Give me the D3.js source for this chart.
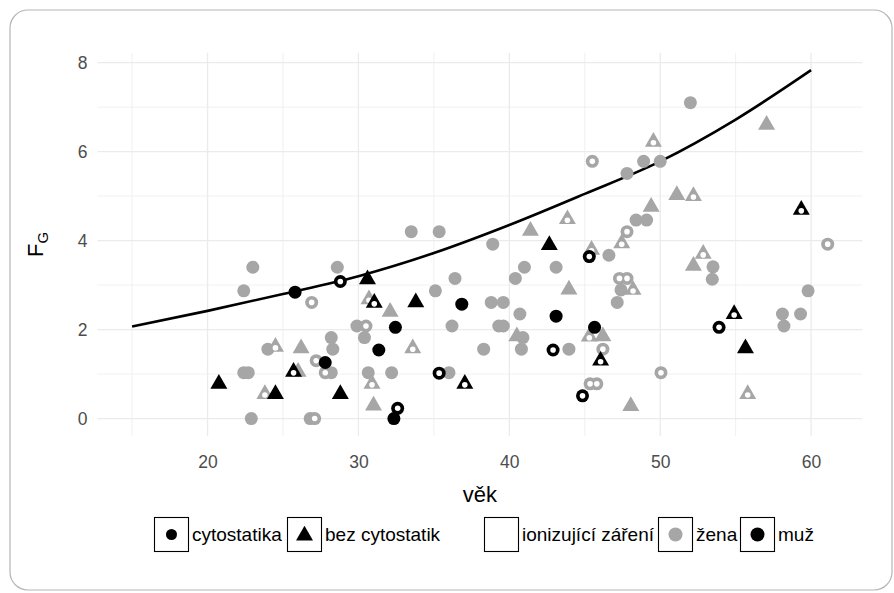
<!DOCTYPE html>
<html>
<head>
<meta charset="utf-8">
<script src="https://cdn.jsdelivr.net/npm/d3@7"></script>
<style>
body { margin: 0; background: #fff; }
svg { font-family: "Liberation Sans", Arial, sans-serif; }
</style>
</head>
<body>
<svg id="chart" width="894" height="593"></svg>
<script>
// values: [věk, F_G]
// žena (gray), cytostatika (circle)
var zenaCyto = [[23.0,3.40],[28.6,3.40],[22.4,2.87],[29.9,2.08],[30.4,1.82],[24.0,1.56],
    [28.2,1.82],[28.3,1.56],[22.4,1.03],[22.7,1.03],[28.2,1.03],[22.9,0],[26.8,0],[32.2,1.03],
    [30.65,1.03],[38.9,3.92],[41.0,3.40],[43.1,3.40],[40.4,3.15],[36.4,3.15],[35.1,2.87],
    [38.8,2.61],[39.6,2.61],[40.7,2.35],[36.2,2.08],[39.3,2.08],[39.6,2.08],[40.9,1.82],
    [40.8,1.56],[38.3,1.56],[43.95,1.56],[36.0,1.03],[46.6,3.67],[47.4,2.89],[47.15,2.61],
    [53.5,3.41],[53.45,3.13],[59.8,2.87],[58.1,2.35],[59.3,2.35],[58.2,2.08],[52.0,7.10],
    [48.9,5.78],[50.0,5.78],[47.8,5.51],[48.4,4.46],[49.1,4.46],[33.5,4.20],[35.35,4.20]];
// žena, cytostatika, ionizující záření
var zenaCytoZar = [[30.5,2.08],[26.9,2.61],[27.2,1.30],[27.8,1.03],[27.1,0],[45.35,0.78],
    [45.8,0.78],[47.3,3.15],[47.8,3.15],[46.2,1.56],[50.05,1.03],[61.1,3.92],[45.5,5.78],[47.8,4.20]];
// žena, bez cytostatik (triangle)
var zenaBez = [[32.1,2.40],[26.2,1.58],[26.0,1.05],[31.0,0.29],[43.95,2.90],[40.5,1.85],
    [46.2,1.85],[48.05,0.28],[52.2,3.43],[57.05,6.60],[51.1,5.02],[49.4,4.76],[41.4,4.22]];
// žena, bez cytostatik, ionizující záření
var zenaBezZar = [[30.7,2.68],[24.5,1.61],[23.8,0.55],[30.9,0.78],[45.45,3.79],[33.6,1.58],
    [45.3,1.84],[47.45,3.94],[48.2,2.89],[52.85,3.70],[55.8,0.55],[49.55,6.22],[52.2,5.00],[43.85,4.48]];
// muž (black), cytostatika
var muzCyto = [[25.8,2.84],[32.45,2.05],[31.35,1.54],[27.8,1.26],[32.35,0],[36.85,2.57],
    [43.1,2.30],[45.65,2.05]];
var muzCytoZar = [[28.8,3.08],[32.6,0.23],[45.3,3.64],[42.9,1.54],[35.35,1.02],[44.85,0.51],[53.9,2.05]];
var muzBez = [[30.6,3.13],[20.75,0.78],[24.5,0.55],[28.8,0.55],[42.65,3.90],[33.8,2.61],[55.65,1.58]];
var muzBezZar = [[31.05,2.60],[25.7,1.05],[37.05,0.78],[46.05,1.30],[54.9,2.35],[59.35,4.69]];

// fitted curve, read at every 5 years
var krivkaVek = [15, 20, 25, 30, 35, 40, 45, 50, 55, 60];
var krivkaFG  = [2.07, 2.42, 2.80, 3.20, 3.72, 4.35, 5.05, 5.78, 6.72, 7.83];

var xMajor = [20, 30, 40, 50, 60], xMinor = [15, 25, 35, 45, 55];
var yMajor = [0, 2, 4, 6, 8], yMinor = [1, 3, 5, 7];

(function() {
var gray = '#a6a6a6';

var svg = d3.select('#chart');

// rounded frame
svg.append('rect')
    .attr('x', 10).attr('y', 10)
    .attr('width', 882).attr('height', 580)
    .attr('rx', 18)
    .attr('fill', '#fff')
    .attr('stroke', '#b5b5b5')
    .attr('stroke-width', 1.2);

var pLeft = 97.4, pRight = 862.4, pTop = 52.8, pBottom = 435.9;
var x = d3.scaleLinear().domain([12.7, 63.4]).range([pLeft, pRight]);
var y = d3.scaleLinear().domain([-0.39, 8.22]).range([pBottom, pTop]);

var grid = svg.append('g');
grid.selectAll('.vmin').data(xMinor).enter().append('line')
    .attr('x1', d => x(d)).attr('x2', d => x(d))
    .attr('y1', pTop).attr('y2', pBottom)
    .attr('stroke', '#ececec').attr('stroke-width', 0.8);
grid.selectAll('.hmin').data(yMinor).enter().append('line')
    .attr('x1', pLeft).attr('x2', pRight)
    .attr('y1', d => y(d)).attr('y2', d => y(d))
    .attr('stroke', '#ececec').attr('stroke-width', 0.8);
grid.selectAll('.vmaj').data(xMajor).enter().append('line')
    .attr('x1', d => x(d)).attr('x2', d => x(d))
    .attr('y1', pTop).attr('y2', pBottom)
    .attr('stroke', '#ebebeb').attr('stroke-width', 1.3);
grid.selectAll('.hmaj').data(yMajor).enter().append('line')
    .attr('x1', pLeft).attr('x2', pRight)
    .attr('y1', d => y(d)).attr('y2', d => y(d))
    .attr('stroke', '#ebebeb').attr('stroke-width', 1.3);

// axes (labels only)
var xAxis = svg.append('g')
    .attr('transform', 'translate(0,' + pBottom + ')')
    .call(d3.axisBottom(x).tickValues(xMajor).tickSize(0).tickPadding(20));
var yAxis = svg.append('g')
    .attr('transform', 'translate(' + pLeft + ',0)')
    .call(d3.axisLeft(y).tickValues(yMajor).tickSize(0).tickPadding(10));
[xAxis, yAxis].forEach(function(a) {
    a.select('.domain').remove();
    a.attr('font-size', null).attr('font-family', null);
    a.selectAll('text')
        .attr('fill', '#4d4d4d')
        .style('font-size', '17.5px');
});

svg.append('text')
    .attr('x', (pLeft + pRight) / 2).attr('y', 502)
    .attr('text-anchor', 'middle')
    .style('font-size', '22px')
    .text('věk');

var yt = svg.append('text')
    .attr('transform', 'translate(43,' + ((pTop + pBottom) / 2) + ') rotate(-90)')
    .attr('text-anchor', 'middle')
    .style('font-size', '22px');
yt.append('tspan').text('F');
yt.append('tspan').attr('dy', '0.3em').style('font-size', '15px').text('G');

// curve
var line = d3.line()
    .x((d, i) => x(krivkaVek[i]))
    .y(d => y(d))
    .curve(d3.curveMonotoneX);
svg.append('path')
    .datum(krivkaFG)
    .attr('d', line)
    .attr('fill', 'none')
    .attr('stroke', '#000')
    .attr('stroke-width', 2.6);

var tri = d3.symbol().type(d3.symbolTriangle).size(125);

function drawGroup(data, fill, shape, zar) {
    var g = svg.append('g');
    if (shape == 'circle') {
        g.selectAll('circle').data(data).enter().append('circle')
            .attr('cx', d => x(d[0])).attr('cy', d => y(d[1]))
            .attr('r', 6.5).attr('fill', fill);
    } else {
        g.selectAll('path').data(data).enter().append('path')
            .attr('d', tri)
            .attr('transform', d => 'translate(' + x(d[0]) + ',' + y(d[1]) + ')')
            .attr('fill', fill);
    }
    if (zar) {
        g.selectAll('.dot').data(data).enter().append('circle')
            .attr('cx', d => x(d[0])).attr('cy', d => y(d[1]) + (shape == 'circle' ? 0 : 1))
            .attr('r', 2.8).attr('fill', '#fff');
    }
}

drawGroup(zenaCyto, gray, 'circle', false);
drawGroup(zenaBez, gray, 'triangle', false);
drawGroup(zenaCytoZar, gray, 'circle', true);
drawGroup(zenaBezZar, gray, 'triangle', true);
drawGroup(muzCyto, '#000', 'circle', false);
drawGroup(muzBez, '#000', 'triangle', false);
drawGroup(muzCytoZar, '#000', 'circle', true);
drawGroup(muzBezZar, '#000', 'triangle', true);

// legend
var legendItems = [
    {label: 'cytostatika', key: 'circle', fill: '#000', r: 5.5, bx: 154},
    {label: 'bez cytostatik', key: 'triangle', fill: '#000', bx: 287},
    {label: 'ionizující záření', key: 'none', bx: 484},
    {label: 'žena', key: 'circle', fill: gray, r: 7, bx: 658},
    {label: 'muž', key: 'circle', fill: '#000', r: 7, bx: 740}
];
var ly = 517, box = 34;
var leg = svg.append('g');
legendItems.forEach(function(it) {
    leg.append('rect')
        .attr('x', it.bx + 0.5).attr('y', ly + 0.5)
        .attr('width', box).attr('height', box)
        .attr('fill', '#fff').attr('stroke', '#000').attr('stroke-width', 1.1);
    var cx = it.bx + box / 2 + 0.5, cy = ly + box / 2 + 0.5;
    if (it.key == 'circle') {
        leg.append('circle').attr('cx', cx).attr('cy', cy).attr('r', it.r).attr('fill', it.fill);
    } else if (it.key == 'triangle') {
        leg.append('path').attr('d', tri)
            .attr('transform', 'translate(' + cx + ',' + (cy + 1) + ')')
            .attr('fill', it.fill);
    }
    leg.append('text')
        .attr('x', it.bx + box + 4).attr('y', cy)
        .attr('dy', '0.35em')
        .style('font-size', '19px')
        .text(it.label);
});
})();
</script>
</body>
</html>
